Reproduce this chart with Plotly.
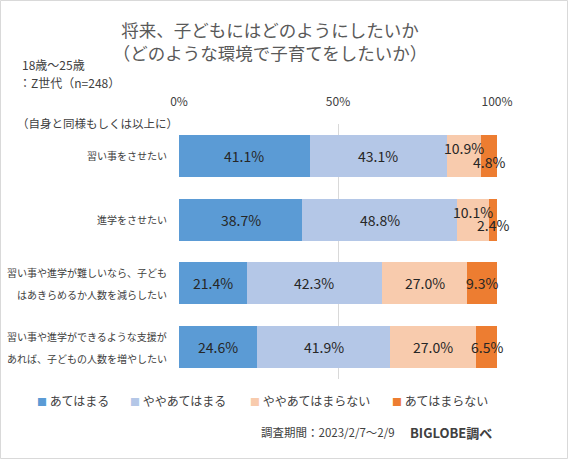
import plotly.graph_objects as go

categories = [
    "習い事をさせたい",
    "進学をさせたい",
    "習い事や進学が難しいなら、子ども\nはあきらめるか人数を減らしたい",
    "習い事や進学ができるような支援が\nあれば、子どもの人数を増やしたい",
]
series_names = ["あてはまる", "ややあてはまる", "ややあてはまらない", "あてはまらない"]
values = [
    [41.1, 38.7, 21.4, 24.6],
    [43.1, 48.8, 42.3, 41.9],
    [10.9, 10.1, 27.0, 27.0],
    [4.8, 2.4, 9.3, 6.5],
]
x_ticks = [0, 50, 100]
x_tick_labels = ["0%", "50%", "100%"]

colors = ["#5B9BD5", "#B4C7E7", "#F8CBAD", "#ED7D31"]
TXT = "#404040"
FONT = "Noto Sans CJK JP"

W, H = 568, 459
L, R, T, B = 179, 71, 124, 80
PW, PH = W - L - R, H - T - B


def px(xp):
    return (xp - L) / PW


def py(yp):
    return (H - B - yp) / PH


# label shifts for narrow segments (series index, category index) -> yshift
label_shift = {(2, 0): 8, (3, 0): -6, (2, 1): 8, (3, 1): -5}

cat_ids = list(range(len(categories)))
fig = go.Figure()
for s, name in enumerate(series_names):
    fig.add_trace(go.Bar(
        y=cat_ids, x=values[s], name=name, orientation="h",
        marker=dict(color=colors[s], line=dict(width=0)),
        showlegend=False, hoverinfo="skip",
    ))

annotations = []
# data labels
for c in cat_ids:
    cum = 0
    for s in range(len(series_names)):
        v = values[s][c]
        annotations.append(dict(
            x=cum + v / 2, y=c, xref="x", yref="y", text=f"{v:.1f}%",
            showarrow=False, font=dict(size=14, color="#262626", family=FONT),
            yshift=label_shift.get((s, c), 0),
        ))
        cum += v

# category labels (each line separately for line spacing)
for c, cat in enumerate(categories):
    lines = cat.split("\n")
    n = len(lines)
    for i, line in enumerate(lines):
        annotations.append(dict(
            x=px(169), y=c, xref="paper", yref="y", text=line, showarrow=False,
            xanchor="right", font=dict(size=10, color=TXT, family=FONT),
            yshift=(n - 1) / 2 * 22 - i * 22,
        ))

# legend
leg_x = [37, 130, 250, 392]
for s, name in enumerate(series_names):
    annotations.append(dict(
        x=px(leg_x[s] - 2), y=py(400), xref="paper", yref="paper",
        text=f"<span style='color:{colors[s]};font-size:10px'>■</span> {name}",
        showarrow=False, xanchor="left", yanchor="middle",
        font=dict(size=12, color=TXT, family=FONT),
    ))

# subtitles and notes
annotations += [
    dict(x=px(20), y=py(65), xref="paper", yref="paper", text="18歳～25歳",
         showarrow=False, xanchor="left", yanchor="middle",
         font=dict(size=12, color=TXT, family=FONT)),
    dict(x=px(17), y=py(83), xref="paper", yref="paper", text="：Z世代（n=248）",
         showarrow=False, xanchor="left", yanchor="middle",
         font=dict(size=12, color=TXT, family=FONT)),
    dict(x=px(15), y=py(123), xref="paper", yref="paper", text="（自身と同様もしくは以上に）",
         showarrow=False, xanchor="left", yanchor="middle",
         font=dict(size=11.5, color=TXT, family=FONT)),
    dict(x=px(397), y=py(432), xref="paper", yref="paper", text="調査期間：2023/2/7～2/9",
         showarrow=False, xanchor="right", yanchor="middle",
         font=dict(size=11.5, color=TXT, family=FONT)),
    dict(x=px(408), y=py(432), xref="paper", yref="paper", text="<b>BIGLOBE調べ</b>",
         showarrow=False, xanchor="left", yanchor="middle",
         font=dict(size=13, color=TXT, family=FONT)),
]

fig.update_layout(
    width=W, height=H,
    margin=dict(l=L, r=R, t=T, b=B),
    barmode="stack", bargap=0.34,
    paper_bgcolor="white", plot_bgcolor="white",
    font=dict(family=FONT, color=TXT),
    hovermode=False,
    title=dict(
        text="将来、子どもにはどのようにしたいか<br>（どのような環境で子育てをしたいか）",
        x=270 / W, xanchor="center", y=1 - 37 / H, yanchor="middle",
        font=dict(size=17.5, color="#595959", family=FONT),
    ),
    xaxis=dict(
        range=[0, 100], side="top", tickvals=x_ticks, ticktext=x_tick_labels,
        showgrid=True, gridcolor="#D9D9D9", gridwidth=1, zeroline=False,
        showline=False, ticks="", tickfont=dict(size=12, color=TXT, family=FONT),
        ticklabelstandoff=15, fixedrange=True,
    ),
    yaxis=dict(
        tickvals=cat_ids, showticklabels=False, fixedrange=True,
        showgrid=False, zeroline=False, showline=False, ticks="",
        range=[len(categories) - 0.5, -0.5],
    ),
    annotations=annotations,
    shapes=[dict(type="rect", xref="paper", yref="paper",
                 x0=px(0.5), x1=px(W - 0.5), y0=py(H - 0.5), y1=py(0.5),
                 line=dict(color="#D9D9D9", width=1), fillcolor="rgba(0,0,0,0)",
                 layer="below")],
)

fig.write_html(
    "out.html",
    config={"displayModeBar": False},
    post_script="document.body.style.margin='0';document.body.style.overflow='hidden';",
)
